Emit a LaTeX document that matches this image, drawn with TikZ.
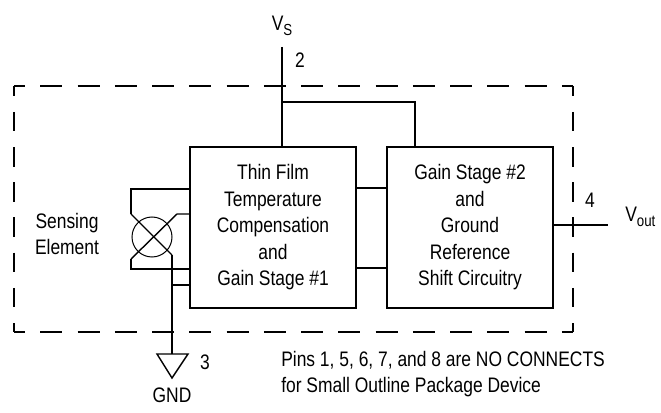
\documentclass[tikz,border=0pt]{standalone}
\usepackage{fontspec}
\setmainfont[FakeStretch=0.83]{Liberation Sans}
\usepackage{tikz}
\usetikzlibrary{positioning,calc}
\newcommand{\pinsub}[1]{\raisebox{-3.4pt}{\fontsize{12}{12}\selectfont #1}}
\tikzset{
  wire/.style={line width=1.05pt},
  stagebox/.style={draw,line width=1.05pt,minimum width=124.5pt,minimum height=120.75pt,inner sep=0pt,align=center,font=\fontsize{15.75}{19.9}\selectfont},
  lbl/.style={inner sep=0pt,align=left,font=\fontsize{15.75}{19.5}\selectfont},
  hframe/.style={line width=1.05pt,dash pattern=on 16.5pt off 11.44pt,dash phase=8.25pt},
  vframe/.style={line width=1.05pt,dash pattern=on 14.6pt off 11.8pt,dash phase=7pt}
}
\begin{document}
\begin{tikzpicture}[x=0.75pt,y=-0.75pt]
  \useasboundingbox (0,0) rectangle (661,413);
  % outer dashed package
  \coordinate (tl) at (14,86); \coordinate (tr) at (573,86);
  \coordinate (bl) at (14,332); \coordinate (br) at (573,332);
  \draw[hframe] (tl) -- (tr);
  \draw[hframe] (bl) -- (br);
  \draw[vframe] (tl) -- (bl);
  \draw[vframe] (tr) -- (br);
  % the two stages
  \node[stagebox] (comp) at (273,227.5){Thin Film\\Temperature\\Compensation\\and\\Gain Stage \#1};
  \node[stagebox] (shift) at (470,227.5){Gain Stage \#2\\and\\Ground\\Reference\\Shift Circuitry};
  \draw[wire](comp.east |- 0,188)--(shift.west |- 0,188);
  \draw[wire](comp.east |- 0,268)--(shift.west |- 0,268);
  % supply
  \coordinate (vstop) at (282,47); \coordinate (vsjoin) at (282,102); \coordinate (vsright) at (415,102);
  \draw[wire](vstop)--(vstop |- comp.north);
  \draw[wire](vsjoin)--(vsright)--(vsright |- shift.north);
  \node[lbl] (vs) at (282,26){V\pinsub{S}};
  \node[lbl] (pintwo) at (300,60){2};
  % output
  \node[lbl,right] (vout) at (625,217){V\pinsub{out}};
  \coordinate (outend) at (608,225);
  \draw[wire](shift.east |- outend)--(outend);
  \node[lbl] (pinfour) at (590,200){4};
  % sensing bridge
  \node[draw,circle,line width=.75pt,minimum size=30pt,inner sep=0pt] (bridge) at (152,237){};
  \coordinate (ul) at (131,214); \coordinate (ll) at (131,259); \coordinate (lr) at (172,255); \coordinate (ur) at (177,214);
  \draw[wire](ul)--(lr);
  \draw[wire](ll)--(ur)--(ur -| comp.west);
  \draw[wire](ul)--(131,189)--(comp.west |- 0,189);
  \draw[wire](ll)--(131,269)--(comp.west |- 0,269);
  \node[lbl,align=center] (sense) at (67,234){Sensing\\Element};
  % ground
  \coordinate (gndtop) at (172,354);
  \draw[wire](lr)--(gndtop);
  \draw[wire](172,285)--(comp.west |- 0,285);
  \draw[wire](157,354)--(188,354)--(172,378)--cycle;
  \node[lbl] (gnd) at (172,395){GND};
  \node[lbl] (pinthree) at (205,362){3};
  \node[lbl,anchor=north west] (note) at (281,351){Pins 1, 5, 6, 7, and 8 are NO CONNECTS\\for Small Outline Package Device};
\end{tikzpicture}
\end{document}
